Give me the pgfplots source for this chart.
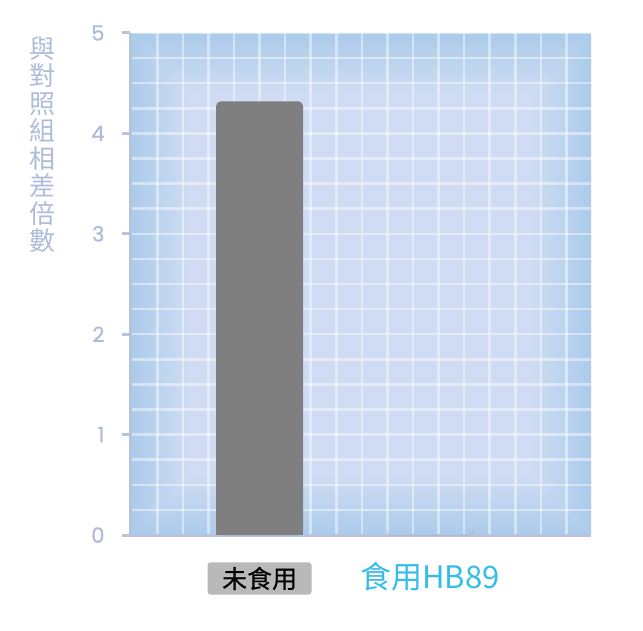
\documentclass[border=0pt]{standalone}
\usepackage{fontspec}
\setmainfont{Poppins}
\newfontfamily\numfont{Poppins}[FakeBold=0.7]
\newfontfamily\cjk{Noto Sans CJK TC}
\newfontfamily\cjkm{Noto Sans CJK TC}[FakeBold=0.5]
\usepackage{pgfplots}
\pgfplotsset{compat=1.18}

\definecolor{axisgray}{HTML}{B7C2DC}
\definecolor{tickblue}{HTML}{AEBCD9}
\definecolor{bgedge}{HTML}{AACBEA}
\definecolor{bginner}{HTML}{CFDCF3}
\definecolor{bargray}{HTML}{7F7F7F}
\definecolor{labelbox}{HTML}{B9B9B9}
\definecolor{hbcyan}{HTML}{35BDE9}

\tikzset{
  bb/.style={}, % short names for the corners of the plot area
}
\newcommand{\edgeframe}{%
  \coordinate (sw) at (path picture bounding box.south west);
  \coordinate (se) at (path picture bounding box.south east);
  \coordinate (nw) at (path picture bounding box.north west);
  \coordinate (ne) at (path picture bounding box.north east);
  \shade[left color=bgedge, right color=bginner]
    (sw) -- ([shift={(60pt,60pt)}]sw) -- ([shift={(60pt,-60pt)}]nw) -- (nw) -- cycle;
  \shade[left color=bginner, right color=bgedge]
    (se) -- (ne) -- ([shift={(-60pt,-60pt)}]ne) -- ([shift={(-60pt,60pt)}]se) -- cycle;
  \shade[top color=bginner, bottom color=bgedge]
    (sw) -- (se) -- ([shift={(-60pt,60pt)}]se) -- ([shift={(60pt,60pt)}]sw) -- cycle;
  \shade[top color=bgedge, bottom color=bginner]
    (nw) -- (ne) -- ([shift={(-60pt,-60pt)}]ne) -- ([shift={(60pt,-60pt)}]nw) -- cycle;
}

\begin{document}
\begin{tikzpicture}[x=1pt,y=1pt]
\useasboundingbox (0,0) rectangle (643,630);
\begin{axis}[
    at={(130pt,95pt)}, anchor=south west,
    width=461pt, height=502pt, scale only axis,
    xmin=-0.76, xmax=1.944, ymin=0, ymax=5,
    axis x line*=bottom, axis y line*=left,
    axis line style={axisgray, line width=3pt},
    axis background/.style={fill=bginner, path picture={\edgeframe}},
    xtick={0,1},
    xticklabels={
        {\tikz[baseline=(t.base)]\node[fill=labelbox, rounded corners=3pt,
            inner xsep=14.5pt, inner ysep=4.5pt, text=black,
            font=\cjkm\fontsize{25}{25}\selectfont](t){未食用};},
        {\color{hbcyan}\cjk\fontsize{31}{31}\selectfont 食用HB89}},
    minor xtick={-0.6,-0.45,-0.3,-0.15,0,0.15,0.3,0.45,0.6,0.75,0.9,1.05,1.2,1.35,1.5,1.65,1.8},
    xminorgrids, xmajorgrids=false,
    ytick={0,1,2,3,4,5},
    minor ytick={0.25,0.5,0.75,1.25,1.5,1.75,2.25,2.5,2.75,3.25,3.5,3.75,4.25,4.5,4.75},
    ymajorgrids, yminorgrids,
    grid style={white, opacity=0.45, line width=2.5pt},
    minor grid style={white, opacity=0.45, line width=2.5pt},
    tick align=outside,
    major tick length=8pt, minor tick length=0pt,
    xtick style={draw=none},
    ytick style={axisgray, line width=3pt},
    /pgf/number format/assume math mode=true,
    yticklabel style={text=tickblue, font=\numfont\fontsize{21}{21}\selectfont, xshift=-14pt},
    xticklabel style={anchor=base, yshift=-45pt},
]
% the bar, with its rounded top
\addplot[ybar, bar width=87pt, bar shift=0pt, fill=bargray, draw=none, rounded corners=5pt]
    coordinates {(0,4.32) (1,0)};
% square foot of the same bar
\addplot[ybar, bar width=87pt, bar shift=0pt, fill=bargray, draw=none]
    coordinates {(0,0.3)};
\end{axis}
\node[anchor=north, text=tickblue, align=center,
      font=\cjk\fontsize{26}{27.5}\selectfont] at (42,597)
      {與\\對\\照\\組\\相\\差\\倍\\數};
\end{tikzpicture}
\end{document}
